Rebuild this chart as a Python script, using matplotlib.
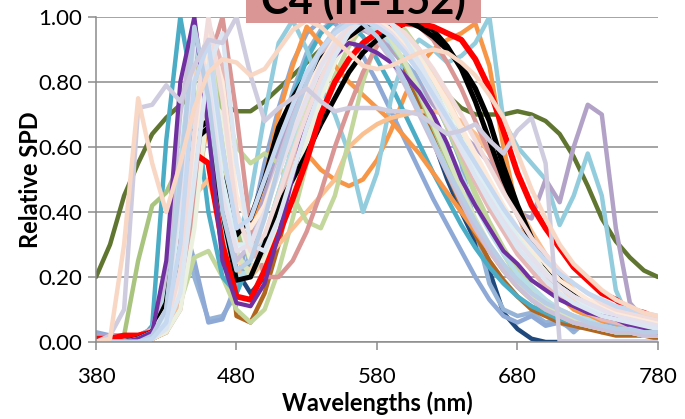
import matplotlib
matplotlib.use("Agg")
import matplotlib.pyplot as plt
from matplotlib.patches import Rectangle

plt.rcParams["font.family"] = ["Lato", "DejaVu Sans"]

# --- datos: longitudes de onda (nm) y SPD relativas ---
wl = list(range(380, 781, 10))

spd_01 = [0.00,0.00,0.00,0.01,0.03,0.15,0.55,0.95,0.70,0.35,0.20,0.22,0.32,0.46,0.60,0.72,0.82,0.90,0.95,0.97,0.96,0.92,0.86,0.78,0.69,0.60,0.51,0.42,0.34,0.27,0.21,0.17,0.13,0.10,0.08,0.07,0.05,0.04,0.04,0.03,0.03]
spd_02 = [0.00,0.00,0.00,0.01,0.02,0.08,0.35,0.85,0.90,0.50,0.25,0.22,0.30,0.42,0.55,0.67,0.78,0.87,0.93,0.97,0.99,0.98,0.95,0.90,0.83,0.75,0.66,0.57,0.48,0.40,0.33,0.26,0.21,0.17,0.13,0.11,0.09,0.07,0.06,0.05,0.04]
spd_03 = [0.00,0.00,0.00,0.00,0.02,0.06,0.25,0.70,0.95,0.60,0.28,0.20,0.28,0.42,0.58,0.72,0.84,0.93,0.98,1.00,0.98,0.93,0.86,0.77,0.67,0.57,0.47,0.38,0.30,0.24,0.18,0.14,0.11,0.09,0.07,0.05,0.04,0.03,0.03,0.02,0.02]
spd_04 = [0.00,0.00,0.00,0.01,0.04,0.20,0.70,0.98,0.75,0.40,0.25,0.30,0.42,0.56,0.69,0.80,0.89,0.95,0.98,0.97,0.93,0.87,0.79,0.70,0.61,0.52,0.43,0.35,0.28,0.22,0.17,0.13,0.10,0.08,0.06,0.05,0.04,0.03,0.03,0.02,0.02]
spd_05 = [0.00,0.00,0.00,0.00,0.01,0.05,0.20,0.55,0.98,0.85,0.40,0.25,0.30,0.43,0.57,0.70,0.81,0.90,0.96,0.99,0.99,0.96,0.91,0.84,0.76,0.67,0.58,0.49,0.41,0.34,0.27,0.22,0.17,0.14,0.11,0.09,0.07,0.06,0.05,0.04,0.04]
spd_06 = [0.00,0.00,0.00,0.00,0.01,0.03,0.10,0.40,0.85,1.00,0.70,0.35,0.20,0.20,0.25,0.34,0.46,0.60,0.72,0.83,0.91,0.96,0.98,0.97,0.93,0.86,0.78,0.68,0.58,0.48,0.39,0.31,0.24,0.19,0.15,0.12,0.10,0.08,0.07,0.06,0.06]
spd_07 = [0.00,0.00,0.00,0.00,0.01,0.05,0.30,0.80,0.90,0.75,0.60,0.55,0.58,0.55,0.45,0.37,0.35,0.45,0.62,0.80,0.93,0.98,0.96,0.90,0.80,0.68,0.56,0.45,0.35,0.27,0.20,0.15,0.11,0.08,0.06,0.05,0.04,0.03,0.03,0.02,0.02]
spd_08 = [0.00,0.00,0.00,0.00,0.01,0.05,0.35,0.90,0.70,0.40,0.30,0.45,0.70,0.92,0.99,0.90,0.78,0.70,0.58,0.40,0.52,0.75,0.88,0.93,0.90,0.86,0.88,0.92,1.00,0.68,0.60,0.55,0.50,0.36,0.45,0.58,0.45,0.16,0.06,0.04,0.03]
spd_09 = [0.00,0.00,0.00,0.00,0.05,0.62,1.00,0.75,0.40,0.20,0.15,0.25,0.42,0.60,0.75,0.87,0.95,0.99,0.98,0.94,0.87,0.79,0.70,0.61,0.52,0.44,0.36,0.29,0.23,0.18,0.14,0.11,0.09,0.07,0.06,0.05,0.04,0.03,0.03,0.02,0.02]
spd_10 = [0.00,0.02,0.10,0.72,0.73,0.79,0.74,0.85,0.93,0.92,1.00,0.82,0.68,0.72,0.75,0.78,0.74,0.71,0.72,0.72,0.72,0.71,0.71,0.70,0.67,0.64,0.65,0.67,0.62,0.58,0.65,0.69,0.55,0.00,0.00,0.00,0.00,0.00,0.00,0.00,0.00]
spd_11 = [0.00,0.01,0.30,0.75,0.55,0.40,0.55,0.72,0.83,0.87,0.86,0.82,0.84,0.90,0.96,0.99,0.97,0.93,0.89,0.85,0.84,0.85,0.87,0.89,0.90,0.89,0.86,0.82,0.76,0.69,0.58,0.47,0.38,0.30,0.24,0.20,0.16,0.13,0.11,0.09,0.08]
spd_12 = [0.20,0.30,0.45,0.55,0.64,0.69,0.73,0.76,0.76,0.73,0.71,0.71,0.74,0.78,0.82,0.86,0.90,0.93,0.95,0.96,0.96,0.94,0.90,0.85,0.80,0.76,0.72,0.70,0.70,0.70,0.71,0.70,0.68,0.64,0.57,0.48,0.38,0.31,0.26,0.22,0.20]
spd_13 = [0.00,0.00,0.00,0.00,0.01,0.04,0.20,0.60,0.75,0.45,0.22,0.15,0.20,0.32,0.48,0.63,0.77,0.88,0.95,0.98,0.97,0.92,0.84,0.73,0.62,0.50,0.40,0.31,0.22,0.09,0.04,0.01,0.00,0.00,0.00,0.00,0.00,0.00,0.00,0.00,0.00]
spd_14 = [0.02,0.01,0.01,0.01,0.03,0.12,0.35,0.20,0.07,0.08,0.15,0.28,0.45,0.62,0.77,0.89,0.96,0.99,0.99,0.97,0.94,0.90,0.86,0.81,0.75,0.66,0.55,0.35,0.18,0.10,0.08,0.09,0.06,0.07,0.03,0.07,0.04,0.06,0.03,0.04,0.02]
spd_15 = [0.00,0.00,0.00,0.00,0.01,0.05,0.20,0.60,0.85,0.55,0.30,0.35,0.50,0.70,0.85,0.97,0.92,0.85,0.80,0.76,0.72,0.68,0.63,0.58,0.52,0.46,0.40,0.34,0.28,0.22,0.17,0.13,0.10,0.08,0.06,0.05,0.04,0.03,0.03,0.02,0.02]
spd_16 = [0.00,0.00,0.00,0.00,0.01,0.03,0.12,0.40,0.70,0.50,0.30,0.35,0.45,0.55,0.60,0.58,0.53,0.50,0.48,0.50,0.56,0.65,0.76,0.85,0.90,0.93,0.95,0.98,0.85,0.60,0.40,0.28,0.20,0.14,0.10,0.08,0.06,0.05,0.04,0.03,0.03]
spd_17 = [0.00,0.00,0.00,0.00,0.01,0.03,0.12,0.45,0.50,0.35,0.22,0.20,0.25,0.30,0.35,0.40,0.45,0.50,0.60,0.64,0.67,0.69,0.70,0.71,0.71,0.70,0.68,0.64,0.58,0.50,0.42,0.34,0.27,0.21,0.16,0.12,0.10,0.08,0.06,0.05,0.04]
spd_18 = [0.00,0.00,0.00,0.00,0.01,0.03,0.15,0.50,0.85,0.50,0.08,0.06,0.15,0.30,0.48,0.65,0.80,0.91,0.97,0.99,0.97,0.92,0.84,0.74,0.63,0.52,0.42,0.33,0.25,0.19,0.14,0.10,0.08,0.06,0.05,0.04,0.03,0.02,0.02,0.02,0.01]
spd_19 = [0.00,0.00,0.00,0.00,0.01,0.03,0.12,0.26,0.28,0.20,0.10,0.06,0.10,0.22,0.38,0.55,0.70,0.82,0.91,0.97,0.99,0.97,0.92,0.85,0.76,0.66,0.56,0.46,0.37,0.29,0.22,0.17,0.13,0.10,0.08,0.06,0.05,0.04,0.03,0.03,0.02]
spd_20 = [0.00,0.00,0.02,0.25,0.42,0.46,0.55,0.80,0.95,0.70,0.35,0.25,0.32,0.46,0.60,0.73,0.84,0.92,0.97,0.99,0.97,0.92,0.85,0.76,0.66,0.56,0.46,0.37,0.29,0.22,0.17,0.13,0.10,0.08,0.06,0.05,0.04,0.03,0.03,0.02,0.02]
spd_21 = [0.02,0.02,0.02,0.02,0.04,0.15,0.45,0.90,0.80,0.45,0.30,0.33,0.45,0.58,0.70,0.80,0.88,0.93,0.96,0.96,0.94,0.90,0.85,0.79,0.73,0.68,0.64,0.60,0.55,0.48,0.40,0.38,0.50,0.43,0.60,0.73,0.70,0.35,0.12,0.07,0.05]
spd_22 = [0.00,0.00,0.00,0.00,0.02,0.08,0.40,0.92,0.85,0.50,0.30,0.30,0.40,0.52,0.64,0.75,0.84,0.91,0.96,0.99,0.99,0.96,0.91,0.85,0.78,0.70,0.62,0.54,0.46,0.39,0.32,0.26,0.21,0.17,0.14,0.11,0.09,0.08,0.07,0.06,0.05]
spd_23 = [0.00,0.00,0.00,0.00,0.01,0.04,0.18,0.60,0.95,0.80,0.45,0.35,0.42,0.54,0.66,0.77,0.86,0.93,0.98,1.00,0.99,0.96,0.92,0.87,0.81,0.74,0.66,0.58,0.50,0.42,0.35,0.29,0.24,0.19,0.16,0.13,0.11,0.09,0.08,0.07,0.06]
spd_24 = [0.00,0.00,0.00,0.01,0.03,0.10,0.45,0.96,0.80,0.45,0.28,0.30,0.40,0.52,0.64,0.75,0.85,0.92,0.97,0.99,0.98,0.95,0.90,0.83,0.75,0.67,0.59,0.51,0.44,0.37,0.31,0.26,0.21,0.17,0.14,0.12,0.10,0.08,0.07,0.06,0.05]
spd_25 = [0.00,0.00,0.00,0.00,0.01,0.05,0.22,0.65,1.00,0.75,0.40,0.28,0.33,0.45,0.58,0.70,0.81,0.90,0.96,0.99,1.00,0.98,0.95,0.90,0.84,0.77,0.70,0.62,0.54,0.46,0.39,0.32,0.27,0.22,0.18,0.15,0.12,0.10,0.09,0.08,0.07]
spd_26 = [0.00,0.00,0.00,0.00,0.01,0.06,0.30,0.80,0.92,0.60,0.35,0.38,0.50,0.62,0.73,0.83,0.90,0.95,0.98,0.99,0.97,0.94,0.89,0.83,0.76,0.69,0.62,0.55,0.48,0.41,0.35,0.30,0.25,0.21,0.18,0.15,0.13,0.11,0.10,0.09,0.08]
spd_27 = [0.00,0.00,0.00,0.00,0.01,0.04,0.15,0.50,0.85,0.95,0.55,0.30,0.28,0.38,0.52,0.66,0.78,0.88,0.95,0.99,1.00,0.98,0.93,0.86,0.78,0.69,0.60,0.51,0.43,0.36,0.29,0.24,0.19,0.15,0.12,0.10,0.08,0.07,0.06,0.05,0.04]
spd_28 = [0.00,0.00,0.00,0.00,0.01,0.03,0.10,0.35,0.75,0.70,0.40,0.25,0.25,0.35,0.48,0.62,0.75,0.86,0.94,0.99,1.00,0.98,0.94,0.88,0.81,0.73,0.65,0.57,0.49,0.41,0.34,0.28,0.23,0.18,0.15,0.12,0.10,0.08,0.07,0.06,0.05]
spd_29 = [0.03,0.02,0.02,0.02,0.04,0.15,0.40,0.25,0.06,0.07,0.18,0.35,0.55,0.72,0.86,0.95,0.99,0.98,0.94,0.88,0.80,0.71,0.62,0.53,0.44,0.36,0.28,0.20,0.13,0.08,0.06,0.08,0.05,0.06,0.04,0.05,0.03,0.04,0.03,0.03,0.02]
spd_30 = [0.00,0.00,0.00,0.00,0.02,0.10,0.50,0.97,0.75,0.40,0.22,0.25,0.38,0.54,0.68,0.80,0.90,0.96,0.99,0.98,0.94,0.88,0.80,0.71,0.62,0.53,0.45,0.37,0.30,0.24,0.19,0.15,0.12,0.10,0.08,0.06,0.05,0.04,0.04,0.03,0.03]

spd_black_a = [0.00,0.00,0.00,0.01,0.03,0.12,0.40,0.65,0.68,0.50,0.33,0.38,0.50,0.66,0.75,0.82,0.87,0.91,0.94,0.97,0.99,1.00,0.99,0.97,0.94,0.90,0.85,0.78,0.68,0.54,0.42,0.32,0.24,0.19,0.15,0.12,0.10,0.08,0.07,0.06,0.05]
spd_black_b = [0.00,0.00,0.00,0.00,0.02,0.08,0.30,0.62,0.66,0.40,0.19,0.20,0.30,0.42,0.50,0.58,0.67,0.75,0.83,0.89,0.93,0.96,0.98,0.98,0.96,0.91,0.84,0.74,0.62,0.50,0.40,0.31,0.24,0.19,0.15,0.12,0.10,0.08,0.07,0.06,0.05]
spd_red = [0.01,0.01,0.02,0.02,0.03,0.10,0.35,0.58,0.55,0.30,0.14,0.13,0.22,0.33,0.44,0.56,0.70,0.80,0.87,0.92,0.95,0.97,0.98,0.98,0.97,0.95,0.93,0.87,0.78,0.65,0.52,0.42,0.35,0.29,0.23,0.19,0.15,0.13,0.10,0.09,0.07]
spd_purple = [0.00,0.00,0.00,0.01,0.03,0.25,0.80,1.00,0.65,0.25,0.12,0.11,0.18,0.33,0.51,0.68,0.81,0.88,0.92,0.91,0.89,0.86,0.82,0.77,0.70,0.61,0.50,0.42,0.35,0.28,0.24,0.19,0.16,0.13,0.11,0.09,0.08,0.07,0.05,0.04,0.03]

# --- estilo de cada serie (orden de dibujo) ---
LW = 3.2
series = [
    (spd_16, "#F79646", LW), (spd_12, "#5F7530", LW), (spd_13, "#1F497D", LW),
    (spd_14, "#95B3D7", LW), (spd_29, "#8EA9D6", LW), (spd_18, "#B0661E", LW),
    (spd_19, "#C3D69B", LW), (spd_09, "#4BACC6", LW), (spd_08, "#93CDDD", LW),
    (spd_21, "#B3A2C7", LW), (spd_15, "#F79646", LW), (spd_17, "#FAC090", LW),
    (spd_20, "#A9C47F", LW), (spd_07, "#C3D69B", LW), (spd_06, "#D99694", LW),
    (spd_01, "#B7DEE8", LW), (spd_02, "#FBD5B5", LW), (spd_03, "#D7E4BD", LW),
    (spd_04, "#CCC1DA", LW), (spd_05, "#E6B9B8", LW), (spd_28, "#EBF1DE", LW),
    (spd_black_b, "black", 3.6), (spd_red, "#FF0000", 4.2), (spd_black_a, "black", 3.8),
    (spd_22, "#DBEEF4", LW), (spd_23, "#FDEADA", LW), (spd_24, "#E5E0EC", LW),
    (spd_purple, "#7030A0", 3.0), (spd_25, "#F2DCDB", LW), (spd_27, "#DCE6F2", LW),
    (spd_30, "#B9CDE5", LW), (spd_26, "#C6D9F1", LW), (spd_10, "#D0CCE0", LW),
    (spd_11, "#F9D7C5", LW),
]

fig = plt.figure(figsize=(6.85, 4.19), dpi=100)
ax = fig.add_axes([96 / 685, 1 - 342 / 419, 562 / 685, 325 / 419])

for vals, col, lw in series:
    ax.plot(wl, vals, color=col, lw=lw, solid_joinstyle="round", solid_capstyle="round")

ax.set_xlim(380, 780)
ax.set_ylim(0, 1.0)
ax.set_xticks([380, 480, 580, 680, 780])
ax.set_yticks([0, 0.2, 0.4, 0.6, 0.8, 1.0])
ax.set_yticklabels([f"{v:.2f}" for v in [0, 0.2, 0.4, 0.6, 0.8, 1.0]])

ax.grid(axis="y", color="#8C8C8C", lw=1.1)
ax.set_axisbelow(True)
for s in ["top", "right"]:
    ax.spines[s].set_visible(False)
for s in ["left", "bottom"]:
    ax.spines[s].set_color("#8C8C8C")
    ax.spines[s].set_linewidth(1.1)
ax.tick_params(axis="both", colors="#8C8C8C", labelcolor="black", labelsize=16,
               length=6, width=1.1)
ax.tick_params(axis="x", pad=12)
ax.tick_params(axis="y", pad=4)

ax.set_xlabel("Wavelengths (nm)", fontsize=17, fontweight="bold", labelpad=3)
ax.set_ylabel("Relative SPD", fontsize=17, fontweight="bold", labelpad=-3)

# Cuadro del título (cortado en el borde superior)
fig.patches.append(Rectangle((246 / 685, 1 - 23 / 419), 235 / 685, 0.1,
                             transform=fig.transFigure, facecolor="#D99694",
                             edgecolor="none", zorder=5))
fig.text(363 / 685, 1 - 13 / 419, "C4 (n=152)", ha="center", va="baseline",
         fontsize=30, fontweight="bold", zorder=6)

fig.savefig("out.png", dpi=100)
